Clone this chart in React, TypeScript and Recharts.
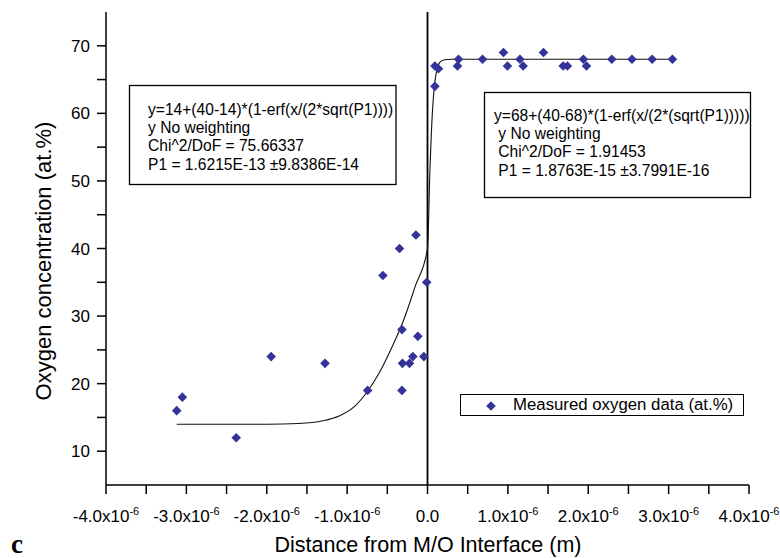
import React from "react";
import {
  ComposedChart,
  Customized,
  Legend,
  Line,
  ReferenceLine,
  Scatter,
  XAxis,
  YAxis,
} from "recharts";

const FONT = '"Liberation Sans", Arial, sans-serif';
const BLUE = "#333399";

// measured points, distance in micrometres
const measuredX = [
  -3.12, -3.05, -2.38, -1.945, -1.275, -0.745, -0.555, -0.348, -0.318, -0.318,
  -0.311, -0.224, -0.182, -0.144, -0.12, -0.045, -0.01, 0.092, 0.092, 0.137,
  0.373, 0.386, 0.685, 0.945, 0.995, 1.15, 1.19, 1.443, 1.688, 1.741, 1.94,
  1.978, 2.293, 2.544, 2.795, 3.047,
];
const measuredO = [
  16, 18, 12, 24, 23, 19, 36, 40, 28, 19, 23, 23, 24, 42, 27, 24, 35, 67, 64,
  66.6, 67, 68, 68, 69, 67, 68, 67, 69, 67, 67, 68, 67, 68, 68, 68, 68,
];

// fitted erf curve (micrometres)
const fitX = [
  -3.12, -2.5, -2.0, -1.6, -1.3, -1.1, -0.9, -0.75, -0.6, -0.45, -0.3, -0.15, 0,
  0.03, 0.06, 0.09, 0.12, 0.15, 0.2, 0.3, 1.0, 2.0, 3.05,
];
const fitO = [
  14, 14, 14, 14.1, 14.5, 15.2, 16.7, 18.8, 21.6, 25.2, 29.3, 34.5, 40, 51.5,
  60, 64.5, 66.6, 67.5, 67.9, 68, 68, 68, 68,
];

const xTicks = [-4, -3.5, -3, -2.5, -2, -1.5, -1, -0.5, 0, 0.5, 1, 1.5, 2, 2.5, 3, 3.5, 4];
const yTicks = [10, 15, 20, 25, 30, 35, 40, 45, 50, 55, 60, 65, 70];

const leftFit = [
  "y=14+(40-14)*(1-erf(x/(2*sqrt(P1))))",
  "y No weighting",
  "Chi^2/DoF = 75.66337",
  "P1 = 1.6215E-13 \u00b19.8386E-14",
];
const rightFit = [
  "y=68+(40-68)*(1-erf(x/(2*(sqrt(P1)))))",
  " y No weighting",
  " Chi^2/DoF = 1.91453",
  " P1 = 1.8763E-15 \u00b13.7991E-16",
];

const measured = measuredX.map((x, i) => ({ x: x * 1e-6, y: measuredO[i] }));
const fit = fitX.map((x, i) => ({ x: x * 1e-6, y: fitO[i] }));

function XTick({ x, y, payload }: any) {
  const u = Math.round(payload.value * 1e7) / 10;
  if (!Number.isInteger(u)) return null;
  return (
    <text x={x} y={y + 26} textAnchor="middle" fontSize={17} fontFamily={FONT} fill="#000">
      {u === 0 ? (
        "0.0"
      ) : (
        <>
          {u.toFixed(1) + "x10"}
          <tspan dy={-7} fontSize={11}>-6</tspan>
        </>
      )}
    </text>
  );
}

function Diamond({ cx, cy, fill }: any) {
  const r = 4.8;
  return (
    <polygon
      points={`${cx},${cy - r} ${cx + r},${cy} ${cx},${cy + r} ${cx - r},${cy}`}
      fill={fill}
    />
  );
}

function FitBox({ x, y, w, h, lines, tx, ty }: any) {
  return (
    <g>
      <rect x={x} y={y} width={w} height={h} fill="#fff" stroke="#000" strokeWidth={1.3} />
      {lines.map((s: string, i: number) => (
        <text
          key={i}
          x={tx}
          y={ty + i * 18.4}
          fontSize={15.6}
          fontFamily={FONT}
          fill="#000"
          style={{ whiteSpace: "pre" }}
        >
          {s}
        </text>
      ))}
    </g>
  );
}

function Notes() {
  return (
    <g>
      <FitBox x={129.5} y={85.5} w={266.5} h={99} lines={leftFit} tx={148} ty={114.5} />
      <FitBox x={484.5} y={92.5} w={266} h={105} lines={rightFit} tx={494} ty={120.5} />
      <text
        transform="rotate(-90, 50.5, 261)"
        x={50.5}
        y={261}
        textAnchor="middle"
        fontSize={22}
        fontFamily={FONT}
        fill="#000"
      >
        Oxygen concentration (at.%)
      </text>
      <text x={428} y={552} textAnchor="middle" fontSize={21.5} fontFamily={FONT} fill="#000">
        Distance from M/O Interface (m)
      </text>
      <text
        x={11}
        y={553}
        fontSize={27}
        fontWeight="bold"
        fontFamily='"Liberation Serif", "Times New Roman", serif'
        fill="#000"
      >
        c
      </text>
    </g>
  );
}

function LegendBox() {
  return (
    <div
      style={{
        width: 284,
        height: 22,
        border: "1.5px solid #000",
        boxSizing: "border-box",
        background: "#fff",
        position: "relative",
        fontFamily: FONT,
        fontSize: 16.8,
        color: "#000",
      }}
    >
      <svg width={12} height={12} style={{ position: "absolute", left: 24, top: 5 }}>
        <polygon points="6,1.2 10.8,6 6,10.8 1.2,6" fill={BLUE} />
      </svg>
      <span style={{ position: "absolute", left: 52, top: 0, lineHeight: "20px", whiteSpace: "nowrap" }}>
        Measured oxygen data (at.%)
      </span>
    </div>
  );
}

export default function App() {
  return (
    <div style={{ position: "absolute", left: 0, top: 0, background: "#fff" }}>
      <ComposedChart width={780} height={558} margin={{ top: 12, right: 31, bottom: 0, left: 0 }}>
        <XAxis
          type="number"
          dataKey="x"
          domain={[-4e-6, 4e-6]}
          ticks={xTicks.map((t) => t * 1e-6)}
          interval={0}
          allowDataOverflow
          height={73}
          tickSize={9}
          tick={<XTick />}
          axisLine={{ stroke: "#000", strokeWidth: 1.5 }}
          tickLine={{ stroke: "#000", strokeWidth: 1.5 }}
        />
        <YAxis
          type="number"
          domain={[5, 75]}
          ticks={yTicks}
          interval={0}
          allowDataOverflow
          width={106}
          tickSize={9}
          tickMargin={7}
          tickFormatter={(v) => (v % 10 === 0 ? String(v) : "")}
          tick={{ fill: "#000", fontSize: 17, fontFamily: FONT }}
          axisLine={{ stroke: "#000", strokeWidth: 1.5 }}
          tickLine={{ stroke: "#000", strokeWidth: 1.5 }}
        />
        <ReferenceLine x={0} stroke="#000" strokeWidth={1.8} />
        <Line
          data={fit}
          dataKey="y"
          type="monotone"
          stroke="#111"
          strokeWidth={1.1}
          dot={false}
          legendType="none"
          isAnimationActive={false}
        />
        <Scatter
          data={measured}
          dataKey="y"
          name="Measured oxygen data (at.%)"
          fill={BLUE}
          shape={<Diamond />}
          isAnimationActive={false}
        />
        <Legend
          layout="horizontal"
          verticalAlign="middle"
          align="center"
          wrapperStyle={{ position: "absolute", left: 460, top: 394, width: 284, height: 22 }}
          content={() => <LegendBox />}
        />
        <Customized component={<Notes />} />
      </ComposedChart>
    </div>
  );
}
